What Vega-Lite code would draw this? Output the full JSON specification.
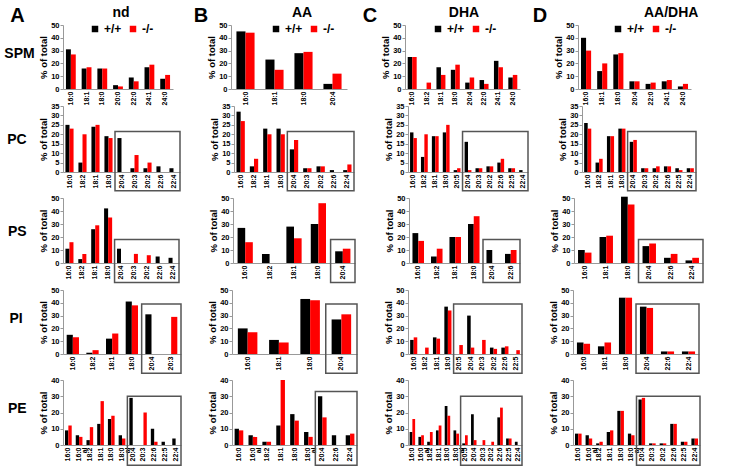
{
"$schema": "https://vega.github.io/schema/vega-lite/v6.json",
"padding": {"left": 4, "top": 6, "right": 0, "bottom": 0},
"autosize": {"type": "pad"},
"title": {"text": "A", "anchor": "start", "frame": "bounds", "fontSize": 20, "fontWeight": "bold", "baseline": "alphabetic", "offset": 0, "dx": 6, "dy": 36, "color": "#000000"},
"config": {
  "font": "Liberation Sans",
  "view": {"stroke": null},
  "axis": {"labelFontWeight": "bold", "labelColor": "#000000", "domainColor": "#999999", "tickColor": "#999999", "grid": false, "titleFontWeight": "bold", "titleColor": "#000000"},
  "axisX": {"labelAngle": -90, "labelFontSize": 7, "ticks": false, "labelPadding": 2, "labelOverlap": false, "labelExpr": "split(datum.label, ' ')", "labelLineHeight": 6},
  "axisY": {"labelFontSize": 7.5, "tickSize": 3, "labelPadding": 1, "titleFontSize": 9.5, "titlePadding": 2, "labelOverlap": false, "labelBound": false},
  "legend": {"titleFontSize": 14, "titleFontWeight": "bold", "titleAnchor": "middle", "titlePadding": 3, "labelFontSize": 12, "labelFontWeight": "bold", "symbolType": "square", "symbolSize": 42, "symbolStrokeWidth": 0, "columnPadding": 5, "labelOffset": 3, "padding": 0, "titleColor": "#000000", "labelColor": "#000000"}
},
"datasets": {
"spm_nd": [{"fa":"16:0","g":"+/+","v":31},{"fa":"16:0","g":"-/-","v":27},{"fa":"18:1","g":"+/+","v":16},{"fa":"18:1","g":"-/-","v":17},{"fa":"18:0","g":"+/+","v":16},{"fa":"18:0","g":"-/-","v":16},{"fa":"20:0","g":"+/+","v":3},{"fa":"20:0","g":"-/-","v":2},{"fa":"22:0","g":"+/+","v":9},{"fa":"22:0","g":"-/-","v":6},{"fa":"24:1","g":"+/+","v":17},{"fa":"24:1","g":"-/-","v":19},{"fa":"24:0","g":"+/+","v":8},{"fa":"24:0","g":"-/-","v":11}],
"spm_aa": [{"fa":"16:0","g":"+/+","v":45},{"fa":"16:0","g":"-/-","v":44},{"fa":"18:1","g":"+/+","v":23},{"fa":"18:1","g":"-/-","v":15},{"fa":"18:0","g":"+/+","v":28},{"fa":"18:0","g":"-/-","v":29},{"fa":"20:4","g":"+/+","v":4},{"fa":"20:4","g":"-/-","v":12}],
"spm_dha": [{"fa":"16:0","g":"+/+","v":25},{"fa":"16:0","g":"-/-","v":25},{"fa":"18:2","g":"-/-","v":5},{"fa":"18:1","g":"+/+","v":17},{"fa":"18:1","g":"-/-","v":11},{"fa":"18:0","g":"+/+","v":15},{"fa":"18:0","g":"-/-","v":19},{"fa":"20:4","g":"+/+","v":5},{"fa":"20:4","g":"-/-","v":9},{"fa":"22:0","g":"+/+","v":7},{"fa":"22:0","g":"-/-","v":4},{"fa":"24:1","g":"+/+","v":22},{"fa":"24:1","g":"-/-","v":17},{"fa":"24:0","g":"+/+","v":9},{"fa":"24:0","g":"-/-","v":11}],
"spm_aadha": [{"fa":"16:0","g":"+/+","v":40},{"fa":"16:0","g":"-/-","v":30},{"fa":"18:1","g":"+/+","v":14},{"fa":"18:1","g":"-/-","v":20},{"fa":"18:0","g":"+/+","v":27},{"fa":"18:0","g":"-/-","v":28},{"fa":"20:4","g":"+/+","v":6},{"fa":"20:4","g":"-/-","v":6},{"fa":"22:0","g":"+/+","v":4},{"fa":"22:0","g":"-/-","v":5},{"fa":"24:1","g":"+/+","v":6},{"fa":"24:1","g":"-/-","v":7},{"fa":"24:0","g":"+/+","v":2},{"fa":"24:0","g":"-/-","v":4}],
"pc_nd": [{"fa":"16:0","g":"+/+","v":25},{"fa":"16:0","g":"-/-","v":23},{"fa":"18:2","g":"+/+","v":5},{"fa":"18:2","g":"-/-","v":20},{"fa":"18:1","g":"+/+","v":24},{"fa":"18:1","g":"-/-","v":25},{"fa":"18:0","g":"+/+","v":19},{"fa":"18:0","g":"-/-","v":18},{"fa":"20:4","g":"+/+","v":18},{"fa":"20:3","g":"+/+","v":2},{"fa":"20:3","g":"-/-","v":9},{"fa":"20:2","g":"+/+","v":2},{"fa":"20:2","g":"-/-","v":5},{"fa":"22:6","g":"+/+","v":3},{"fa":"22:4","g":"+/+","v":2}],
"pc_aa": [{"fa":"16:0","g":"+/+","v":32},{"fa":"16:0","g":"-/-","v":27},{"fa":"18:2","g":"+/+","v":3},{"fa":"18:2","g":"-/-","v":7},{"fa":"18:1","g":"+/+","v":23},{"fa":"18:1","g":"-/-","v":20},{"fa":"18:0","g":"+/+","v":23},{"fa":"18:0","g":"-/-","v":20},{"fa":"20:4","g":"+/+","v":12},{"fa":"20:4","g":"-/-","v":17},{"fa":"20:3","g":"+/+","v":2},{"fa":"20:3","g":"-/-","v":2},{"fa":"20:2","g":"+/+","v":3},{"fa":"20:2","g":"-/-","v":3},{"fa":"22:6","g":"+/+","v":1},{"fa":"22:4","g":"+/+","v":1},{"fa":"22:4","g":"-/-","v":4}],
"pc_dha": [{"fa":"16:0","g":"+/+","v":21},{"fa":"16:0","g":"-/-","v":18},{"fa":"18:2","g":"+/+","v":8},{"fa":"18:2","g":"-/-","v":20},{"fa":"18:1","g":"+/+","v":19},{"fa":"18:1","g":"-/-","v":19},{"fa":"18:0","g":"+/+","v":21},{"fa":"18:0","g":"-/-","v":25},{"fa":"20:5","g":"+/+","v":1},{"fa":"20:5","g":"-/-","v":2},{"fa":"20:4","g":"+/+","v":16},{"fa":"20:4","g":"-/-","v":1},{"fa":"20:3","g":"+/+","v":2},{"fa":"20:3","g":"-/-","v":2},{"fa":"20:2","g":"+/+","v":3},{"fa":"20:2","g":"-/-","v":3},{"fa":"22:6","g":"+/+","v":5},{"fa":"22:6","g":"-/-","v":7},{"fa":"22:5","g":"+/+","v":2},{"fa":"22:5","g":"-/-","v":2},{"fa":"22:4","g":"+/+","v":1}],
"pc_aadha": [{"fa":"16:0","g":"+/+","v":26},{"fa":"16:0","g":"-/-","v":23},{"fa":"18:2","g":"+/+","v":5},{"fa":"18:2","g":"-/-","v":7},{"fa":"18:1","g":"+/+","v":19},{"fa":"18:1","g":"-/-","v":19},{"fa":"18:0","g":"+/+","v":23},{"fa":"18:0","g":"-/-","v":23},{"fa":"20:4","g":"+/+","v":16},{"fa":"20:4","g":"-/-","v":17},{"fa":"20:3","g":"+/+","v":2},{"fa":"20:3","g":"-/-","v":2},{"fa":"20:2","g":"+/+","v":2},{"fa":"20:2","g":"-/-","v":3},{"fa":"22:6","g":"+/+","v":3},{"fa":"22:6","g":"-/-","v":3},{"fa":"22:5","g":"+/+","v":2},{"fa":"22:5","g":"-/-","v":1},{"fa":"22:4","g":"+/+","v":2},{"fa":"22:4","g":"-/-","v":2}],
"ps_nd": [{"fa":"16:0","g":"+/+","v":11},{"fa":"16:0","g":"-/-","v":16},{"fa":"18:2","g":"+/+","v":3},{"fa":"18:2","g":"-/-","v":7},{"fa":"18:1","g":"+/+","v":26},{"fa":"18:1","g":"-/-","v":29},{"fa":"18:0","g":"+/+","v":42},{"fa":"18:0","g":"-/-","v":35},{"fa":"20:4","g":"+/+","v":11},{"fa":"20:3","g":"-/-","v":7},{"fa":"20:2","g":"-/-","v":6},{"fa":"22:6","g":"+/+","v":5},{"fa":"22:4","g":"+/+","v":4}],
"ps_aa": [{"fa":"16:0","g":"+/+","v":27},{"fa":"16:0","g":"-/-","v":16},{"fa":"18:2","g":"+/+","v":7},{"fa":"18:1","g":"+/+","v":28},{"fa":"18:1","g":"-/-","v":19},{"fa":"18:0","g":"+/+","v":30},{"fa":"18:0","g":"-/-","v":46},{"fa":"20:4","g":"+/+","v":9},{"fa":"20:4","g":"-/-","v":11}],
"ps_dha": [{"fa":"16:0","g":"+/+","v":23},{"fa":"16:0","g":"-/-","v":17},{"fa":"18:2","g":"+/+","v":5},{"fa":"18:2","g":"-/-","v":11},{"fa":"18:1","g":"+/+","v":20},{"fa":"18:1","g":"-/-","v":20},{"fa":"18:0","g":"+/+","v":30},{"fa":"18:0","g":"-/-","v":36},{"fa":"20:4","g":"+/+","v":10},{"fa":"22:6","g":"+/+","v":7},{"fa":"22:6","g":"-/-","v":10}],
"ps_aadha": [{"fa":"16:0","g":"+/+","v":10},{"fa":"16:0","g":"-/-","v":8},{"fa":"18:1","g":"+/+","v":20},{"fa":"18:1","g":"-/-","v":21},{"fa":"18:0","g":"+/+","v":51},{"fa":"18:0","g":"-/-","v":45},{"fa":"20:4","g":"+/+","v":13},{"fa":"20:4","g":"-/-","v":15},{"fa":"22:6","g":"+/+","v":4},{"fa":"22:6","g":"-/-","v":7},{"fa":"22:4","g":"+/+","v":2},{"fa":"22:4","g":"-/-","v":4}],
"pi_nd": [{"fa":"16:0","g":"+/+","v":15},{"fa":"16:0","g":"-/-","v":13},{"fa":"18:2","g":"+/+","v":1},{"fa":"18:2","g":"-/-","v":3},{"fa":"18:1","g":"+/+","v":12},{"fa":"18:1","g":"-/-","v":16},{"fa":"18:0","g":"+/+","v":41},{"fa":"18:0","g":"-/-","v":38},{"fa":"20:4","g":"+/+","v":31},{"fa":"20:3","g":"-/-","v":29}],
"pi_aa": [{"fa":"16:0","g":"+/+","v":20},{"fa":"16:0","g":"-/-","v":17},{"fa":"18:1","g":"+/+","v":11},{"fa":"18:1","g":"-/-","v":9},{"fa":"18:0","g":"+/+","v":43},{"fa":"18:0","g":"-/-","v":42},{"fa":"20:4","g":"+/+","v":27},{"fa":"20:4","g":"-/-","v":31}],
"pi_dha": [{"fa":"16:0","g":"+/+","v":11},{"fa":"16:0","g":"-/-","v":13},{"fa":"18:2","g":"-/-","v":5},{"fa":"18:1","g":"+/+","v":13},{"fa":"18:1","g":"-/-","v":12},{"fa":"18:0","g":"+/+","v":37},{"fa":"18:0","g":"-/-","v":34},{"fa":"20:5","g":"-/-","v":7},{"fa":"20:4","g":"+/+","v":30},{"fa":"20:4","g":"-/-","v":5},{"fa":"20:3","g":"-/-","v":11},{"fa":"20:2","g":"+/+","v":5},{"fa":"20:2","g":"-/-","v":4},{"fa":"22:6","g":"+/+","v":5},{"fa":"22:6","g":"-/-","v":6},{"fa":"22:5","g":"-/-","v":3}],
"pi_aadha": [{"fa":"16:0","g":"+/+","v":9},{"fa":"16:0","g":"-/-","v":8},{"fa":"18:1","g":"+/+","v":6},{"fa":"18:1","g":"-/-","v":9},{"fa":"18:0","g":"+/+","v":44},{"fa":"18:0","g":"-/-","v":44},{"fa":"20:4","g":"+/+","v":37},{"fa":"20:4","g":"-/-","v":36},{"fa":"22:6","g":"+/+","v":2},{"fa":"22:6","g":"-/-","v":2},{"fa":"22:4","g":"+/+","v":2},{"fa":"22:4","g":"-/-","v":2}],
"pe_nd": [{"fa":"16:0","g":"+/+","v":9},{"fa":"16:0","g":"-/-","v":12},{"fa":"16:0 al","g":"+/+","v":6},{"fa":"16:0 al","g":"-/-","v":5},{"fa":"18:2","g":"+/+","v":3},{"fa":"18:2","g":"-/-","v":11},{"fa":"18:1","g":"+/+","v":13},{"fa":"18:1","g":"-/-","v":27},{"fa":"18:0","g":"+/+","v":16},{"fa":"18:0","g":"-/-","v":18},{"fa":"18:0 al","g":"+/+","v":6},{"fa":"18:0 al","g":"-/-","v":4},{"fa":"20:4","g":"+/+","v":29},{"fa":"20:3","g":"-/-","v":20},{"fa":"22:6","g":"+/+","v":10},{"fa":"22:6","g":"-/-","v":2},{"fa":"22:5","g":"+/+","v":2},{"fa":"22:4","g":"+/+","v":4}],
"pe_aa": [{"fa":"16:0","g":"+/+","v":10},{"fa":"16:0","g":"-/-","v":9},{"fa":"16:0 al","g":"+/+","v":6},{"fa":"16:0 al","g":"-/-","v":5},{"fa":"18:2","g":"+/+","v":2},{"fa":"18:2","g":"-/-","v":2},{"fa":"18:1","g":"+/+","v":12},{"fa":"18:1","g":"-/-","v":40},{"fa":"18:0","g":"+/+","v":19},{"fa":"18:0","g":"-/-","v":15},{"fa":"18:0 al","g":"+/+","v":8},{"fa":"18:0 al","g":"-/-","v":5},{"fa":"20:4","g":"+/+","v":30},{"fa":"20:4","g":"-/-","v":17},{"fa":"22:6","g":"+/+","v":6},{"fa":"22:4","g":"+/+","v":6},{"fa":"22:4","g":"-/-","v":7}],
"pe_dha": [{"fa":"16:0","g":"+/+","v":8},{"fa":"16:0","g":"-/-","v":16},{"fa":"16:0 al","g":"+/+","v":5},{"fa":"16:0 al","g":"-/-","v":6},{"fa":"18:2","g":"+/+","v":2},{"fa":"18:2","g":"-/-","v":8},{"fa":"18:1","g":"+/+","v":9},{"fa":"18:1","g":"-/-","v":12},{"fa":"18:0","g":"+/+","v":24},{"fa":"18:0","g":"-/-","v":18},{"fa":"18:0 al","g":"+/+","v":9},{"fa":"18:0 al","g":"-/-","v":7},{"fa":"20:5","g":"+/+","v":1},{"fa":"20:5","g":"-/-","v":6},{"fa":"20:4","g":"+/+","v":19},{"fa":"20:4","g":"-/-","v":3},{"fa":"20:3","g":"-/-","v":3},{"fa":"20:2","g":"-/-","v":2},{"fa":"22:6","g":"+/+","v":17},{"fa":"22:6","g":"-/-","v":23},{"fa":"22:5","g":"+/+","v":4},{"fa":"22:5","g":"-/-","v":4},{"fa":"22:4","g":"+/+","v":2}],
"pe_aadha": [{"fa":"16:0","g":"+/+","v":7},{"fa":"16:0","g":"-/-","v":7},{"fa":"16:0 al","g":"+/+","v":6},{"fa":"16:0 al","g":"-/-","v":4},{"fa":"18:2","g":"+/+","v":1},{"fa":"18:2","g":"-/-","v":2},{"fa":"18:1","g":"+/+","v":8},{"fa":"18:1","g":"-/-","v":9},{"fa":"18:0","g":"+/+","v":21},{"fa":"18:0","g":"-/-","v":21},{"fa":"18:0 al","g":"+/+","v":7},{"fa":"18:0 al","g":"-/-","v":6},{"fa":"20:4","g":"+/+","v":28},{"fa":"20:4","g":"-/-","v":29},{"fa":"20:3","g":"+/+","v":1},{"fa":"20:3","g":"-/-","v":1},{"fa":"20:2","g":"+/+","v":1},{"fa":"20:2","g":"-/-","v":1},{"fa":"22:6","g":"+/+","v":13},{"fa":"22:6","g":"-/-","v":13},{"fa":"22:5","g":"+/+","v":2},{"fa":"22:5","g":"-/-","v":2},{"fa":"22:4","g":"+/+","v":4},{"fa":"22:4","g":"-/-","v":4}]
},
"spacing": 2,
"resolve": {"scale": {"color": "independent", "xOffset": "independent"}, "legend": {"color": "independent"}},
"vconcat": [
{
 "spacing": -5,
 "resolve": {"scale": {"color": "independent", "xOffset": "independent"}, "legend": {"color": "independent"}},
 "vconcat": [
{
 "title": {"text": "SPM", "orient": "left", "angle": 0, "align": "left", "anchor": "middle", "baseline": "middle", "offset": 0, "dx": -4, "dy": -2, "fontSize": 14, "fontWeight": "bold", "color": "#000000"},
 "spacing": 58,
 "bounds": "flush",
 "resolve": {"scale": {"color": "independent", "xOffset": "independent"}, "legend": {"color": "independent"}},
 "hconcat": [
  {"width": 110, "height": 64, "data": {"name": "spm_nd"},
   "mark": "bar",
   "encoding": {
    "x": {"field": "fa", "type": "nominal", "title": null, "scale": {"domain": ["16:0","18:1","18:0","20:0","22:0","24:1","24:0"], "paddingInner": 0, "paddingOuter": 0}},
    "xOffset": {"field": "g", "type": "nominal", "scale": {"domain": ["+/+","-/-"], "paddingOuter": 0.6, "paddingInner": 0}},
    "y": {"field": "v", "type": "quantitative", "title": "% of total", "scale": {"domain": [0,50], "nice": false}, "axis": {"values": [0,10,20,30,40,50], "labelOverlap": false}},
    "color": {"field": "g", "type": "nominal", "scale": {"domain": ["+/+","-/-"], "range": ["#000000","#ff0000"]}, "legend": {"orient": "none", "legendX": 26, "legendY": -19, "direction": "horizontal", "title": "nd"}}
   }},
  {"width": 116, "height": 64, "data": {"name": "spm_aa"},
   "title": {"text": "B", "anchor": "start", "frame": "bounds", "fontSize": 20, "fontWeight": "bold", "baseline": "alphabetic", "offset": 0, "dx": -13, "dy": 36, "color": "#000000"},
   "mark": "bar",
   "encoding": {
    "x": {"field": "fa", "type": "nominal", "title": null, "scale": {"domain": ["16:0","18:1","18:0","20:4"], "paddingInner": 0, "paddingOuter": 0}},
    "xOffset": {"field": "g", "type": "nominal", "scale": {"domain": ["+/+","-/-"], "paddingOuter": 0.6, "paddingInner": 0}},
    "y": {"field": "v", "type": "quantitative", "title": "% of total", "scale": {"domain": [0,50], "nice": false}, "axis": {"values": [0,10,20,30,40,50], "labelOverlap": false}},
    "color": {"field": "g", "type": "nominal", "scale": {"domain": ["+/+","-/-"], "range": ["#000000","#ff0000"]}, "legend": {"orient": "none", "legendX": 39, "legendY": -19, "direction": "horizontal", "title": "AA"}}
   }},
  {"width": 115, "height": 64, "data": {"name": "spm_dha"},
   "title": {"text": "C", "anchor": "start", "frame": "bounds", "fontSize": 20, "fontWeight": "bold", "baseline": "alphabetic", "offset": 0, "dx": -18, "dy": 36, "color": "#000000"},
   "mark": "bar",
   "encoding": {
    "x": {"field": "fa", "type": "nominal", "title": null, "scale": {"domain": ["16:0","18:2","18:1","18:0","20:4","22:0","24:1","24:0"], "paddingInner": 0, "paddingOuter": 0}},
    "xOffset": {"field": "g", "type": "nominal", "scale": {"domain": ["+/+","-/-"], "paddingOuter": 0.6, "paddingInner": 0}},
    "y": {"field": "v", "type": "quantitative", "title": "% of total", "scale": {"domain": [0,50], "nice": false}, "axis": {"values": [0,10,20,30,40,50], "labelOverlap": false}},
    "color": {"field": "g", "type": "nominal", "scale": {"domain": ["+/+","-/-"], "range": ["#000000","#ff0000"]}, "legend": {"orient": "none", "legendX": 27, "legendY": -19, "direction": "horizontal", "title": "DHA"}}
   }},
  {"width": 113, "height": 64, "data": {"name": "spm_aadha"},
   "title": {"text": "D", "anchor": "start", "frame": "bounds", "fontSize": 20, "fontWeight": "bold", "baseline": "alphabetic", "offset": 0, "dx": -21, "dy": 36, "color": "#000000"},
   "mark": "bar",
   "encoding": {
    "x": {"field": "fa", "type": "nominal", "title": null, "scale": {"domain": ["16:0","18:1","18:0","20:4","22:0","24:1","24:0"], "paddingInner": 0, "paddingOuter": 0}},
    "xOffset": {"field": "g", "type": "nominal", "scale": {"domain": ["+/+","-/-"], "paddingOuter": 0.6, "paddingInner": 0}},
    "y": {"field": "v", "type": "quantitative", "title": "% of total", "scale": {"domain": [0,50], "nice": false}, "axis": {"values": [0,10,20,30,40,50], "labelOverlap": false}},
    "color": {"field": "g", "type": "nominal", "scale": {"domain": ["+/+","-/-"], "range": ["#000000","#ff0000"]}, "legend": {"orient": "none", "legendX": 34, "legendY": -19, "direction": "horizontal", "title": "AA/DHA", "titleAlign": "left"}}
   }}
 ]
},
{
 "title": {"text": "PC", "orient": "left", "angle": 0, "align": "left", "anchor": "middle", "baseline": "middle", "offset": 0, "dx": -12, "dy": -7, "fontSize": 14, "fontWeight": "bold", "color": "#000000"},
 "spacing": 28,
 "resolve": {"scale": {"color": "independent", "xOffset": "independent"}, "legend": {"color": "independent"}},
 "hconcat": [
  {"width": 117, "height": 66, "data": {"name": "pc_nd"},
   "layer": [
    {"mark": "bar",
     "encoding": {
      "x": {"field": "fa", "type": "nominal", "title": null, "scale": {"domain": ["16:0","18:2","18:1","18:0","20:4","20:3","20:2","22:6","22:4"], "paddingInner": 0, "paddingOuter": 0}},
      "xOffset": {"field": "g", "type": "nominal", "scale": {"domain": ["+/+","-/-"], "paddingOuter": 0.6, "paddingInner": 0}},
      "y": {"field": "v", "type": "quantitative", "title": "% of total", "scale": {"domain": [0,35], "nice": false}, "axis": {"values": [0,5,10,15,20,25,30,35], "labelOverlap": false}},
      "color": {"field": "g", "type": "nominal", "scale": {"domain": ["+/+","-/-"], "range": ["#000000","#ff0000"]}, "legend": null}
     }},
    {"data": {"values": [{}]},
     "mark": {"type": "rect", "fill": "transparent", "stroke": "#555555", "strokeWidth": 1.5},
     "encoding": {"x": {"datum": "20:4", "type": "nominal", "bandPosition": 0}, "x2": {"value": "width"}, "y": {"datum": 21.5, "type": "quantitative", "title": "% of total", "axis": {"values": [0,5,10,15,20,25,30,35], "labelOverlap": false}}, "y2": {"datum": -10}}}
   ]},
  {"width": 120, "height": 66, "data": {"name": "pc_aa"},
   "layer": [
    {"mark": "bar",
     "encoding": {
      "x": {"field": "fa", "type": "nominal", "title": null, "scale": {"domain": ["16:0","18:2","18:1","18:0","20:4","20:3","20:2","22:6","22:4"], "paddingInner": 0, "paddingOuter": 0}},
      "xOffset": {"field": "g", "type": "nominal", "scale": {"domain": ["+/+","-/-"], "paddingOuter": 0.6, "paddingInner": 0}},
      "y": {"field": "v", "type": "quantitative", "title": "% of total", "scale": {"domain": [0,35], "nice": false}, "axis": {"values": [0,5,10,15,20,25,30,35], "labelOverlap": false}},
      "color": {"field": "g", "type": "nominal", "scale": {"domain": ["+/+","-/-"], "range": ["#000000","#ff0000"]}, "legend": null}
     }},
    {"data": {"values": [{}]},
     "mark": {"type": "rect", "fill": "transparent", "stroke": "#555555", "strokeWidth": 1.5},
     "encoding": {"x": {"datum": "20:4", "type": "nominal", "bandPosition": 0}, "x2": {"value": "width"}, "y": {"datum": 21.5, "type": "quantitative", "title": "% of total", "axis": {"values": [0,5,10,15,20,25,30,35], "labelOverlap": false}}, "y2": {"datum": -10}}}
   ]},
  {"width": 120, "height": 66, "data": {"name": "pc_dha"},
   "layer": [
    {"mark": "bar",
     "encoding": {
      "x": {"field": "fa", "type": "nominal", "title": null, "scale": {"domain": ["16:0","18:2","18:1","18:0","20:5","20:4","20:3","20:2","22:6","22:5","22:4"], "paddingInner": 0, "paddingOuter": 0}},
      "xOffset": {"field": "g", "type": "nominal", "scale": {"domain": ["+/+","-/-"], "paddingOuter": 0.6, "paddingInner": 0}},
      "y": {"field": "v", "type": "quantitative", "title": "% of total", "scale": {"domain": [0,35], "nice": false}, "axis": {"values": [0,5,10,15,20,25,30,35], "labelOverlap": false}},
      "color": {"field": "g", "type": "nominal", "scale": {"domain": ["+/+","-/-"], "range": ["#000000","#ff0000"]}, "legend": null}
     }},
    {"data": {"values": [{}]},
     "mark": {"type": "rect", "fill": "transparent", "stroke": "#555555", "strokeWidth": 1.5},
     "encoding": {"x": {"datum": "20:4", "type": "nominal", "bandPosition": 0}, "x2": {"value": "width"}, "y": {"datum": 21.5, "type": "quantitative", "title": "% of total", "axis": {"values": [0,5,10,15,20,25,30,35], "labelOverlap": false}}, "y2": {"datum": -10}}}
   ]},
  {"width": 114, "height": 66, "data": {"name": "pc_aadha"},
   "layer": [
    {"mark": "bar",
     "encoding": {
      "x": {"field": "fa", "type": "nominal", "title": null, "scale": {"domain": ["16:0","18:2","18:1","18:0","20:4","20:3","20:2","22:6","22:5","22:4"], "paddingInner": 0, "paddingOuter": 0}},
      "xOffset": {"field": "g", "type": "nominal", "scale": {"domain": ["+/+","-/-"], "paddingOuter": 0.6, "paddingInner": 0}},
      "y": {"field": "v", "type": "quantitative", "title": "% of total", "scale": {"domain": [0,35], "nice": false}, "axis": {"values": [0,5,10,15,20,25,30,35], "labelOverlap": false}},
      "color": {"field": "g", "type": "nominal", "scale": {"domain": ["+/+","-/-"], "range": ["#000000","#ff0000"]}, "legend": null}
     }},
    {"data": {"values": [{}]},
     "mark": {"type": "rect", "fill": "transparent", "stroke": "#555555", "strokeWidth": 1.5},
     "encoding": {"x": {"datum": "20:4", "type": "nominal", "bandPosition": 0}, "x2": {"value": "width"}, "y": {"datum": 21.5, "type": "quantitative", "title": "% of total", "axis": {"values": [0,5,10,15,20,25,30,35], "labelOverlap": false}}, "y2": {"datum": -10}}}
   ]}
 ]
}
 ]
},
{
 "title": {"text": "PS", "orient": "left", "angle": 0, "align": "left", "anchor": "middle", "baseline": "middle", "offset": 0, "dx": -12, "dy": -7, "fontSize": 14, "fontWeight": "bold", "color": "#000000"},
 "spacing": 28,
 "resolve": {"scale": {"color": "independent", "xOffset": "independent"}, "legend": {"color": "independent"}},
 "hconcat": [
  {"width": 116, "height": 65, "data": {"name": "ps_nd"},
   "layer": [
    {"mark": "bar",
     "encoding": {
      "x": {"field": "fa", "type": "nominal", "title": null, "scale": {"domain": ["16:0","18:2","18:1","18:0","20:4","20:3","20:2","22:6","22:4"], "paddingInner": 0, "paddingOuter": 0}},
      "xOffset": {"field": "g", "type": "nominal", "scale": {"domain": ["+/+","-/-"], "paddingOuter": 0.6, "paddingInner": 0}},
      "y": {"field": "v", "type": "quantitative", "title": "% of total", "scale": {"domain": [0,50], "nice": false}, "axis": {"values": [0,10,20,30,40,50], "labelOverlap": false}},
      "color": {"field": "g", "type": "nominal", "scale": {"domain": ["+/+","-/-"], "range": ["#000000","#ff0000"]}, "legend": null}
     }},
    {"data": {"values": [{}]},
     "mark": {"type": "rect", "fill": "transparent", "stroke": "#555555", "strokeWidth": 1.5},
     "encoding": {"x": {"datum": "20:4", "type": "nominal", "bandPosition": 0}, "x2": {"value": "width"}, "y": {"datum": 18, "type": "quantitative", "title": "% of total", "axis": {"values": [0,10,20,30,40,50], "labelOverlap": false}}, "y2": {"datum": -15}}}
   ]},
  {"width": 122, "height": 65, "data": {"name": "ps_aa"},
   "layer": [
    {"mark": "bar",
     "encoding": {
      "x": {"field": "fa", "type": "nominal", "title": null, "scale": {"domain": ["16:0","18:2","18:1","18:0","20:4"], "paddingInner": 0, "paddingOuter": 0}},
      "xOffset": {"field": "g", "type": "nominal", "scale": {"domain": ["+/+","-/-"], "paddingOuter": 0.6, "paddingInner": 0}},
      "y": {"field": "v", "type": "quantitative", "title": "% of total", "scale": {"domain": [0,50], "nice": false}, "axis": {"values": [0,10,20,30,40,50], "labelOverlap": false}},
      "color": {"field": "g", "type": "nominal", "scale": {"domain": ["+/+","-/-"], "range": ["#000000","#ff0000"]}, "legend": null}
     }},
    {"data": {"values": [{}]},
     "mark": {"type": "rect", "fill": "transparent", "stroke": "#555555", "strokeWidth": 1.5},
     "encoding": {"x": {"datum": "20:4", "type": "nominal", "bandPosition": 0}, "x2": {"value": "width"}, "y": {"datum": 18, "type": "quantitative", "title": "% of total", "axis": {"values": [0,10,20,30,40,50], "labelOverlap": false}}, "y2": {"datum": -15}}}
   ]},
  {"width": 111, "height": 65, "data": {"name": "ps_dha"},
   "layer": [
    {"mark": "bar",
     "encoding": {
      "x": {"field": "fa", "type": "nominal", "title": null, "scale": {"domain": ["16:0","18:2","18:1","18:0","20:4","22:6"], "paddingInner": 0, "paddingOuter": 0}},
      "xOffset": {"field": "g", "type": "nominal", "scale": {"domain": ["+/+","-/-"], "paddingOuter": 0.6, "paddingInner": 0}},
      "y": {"field": "v", "type": "quantitative", "title": "% of total", "scale": {"domain": [0,50], "nice": false}, "axis": {"values": [0,10,20,30,40,50], "labelOverlap": false}},
      "color": {"field": "g", "type": "nominal", "scale": {"domain": ["+/+","-/-"], "range": ["#000000","#ff0000"]}, "legend": null}
     }},
    {"data": {"values": [{}]},
     "mark": {"type": "rect", "fill": "transparent", "stroke": "#555555", "strokeWidth": 1.5},
     "encoding": {"x": {"datum": "20:4", "type": "nominal", "bandPosition": 0}, "x2": {"value": "width"}, "y": {"datum": 18, "type": "quantitative", "title": "% of total", "axis": {"values": [0,10,20,30,40,50], "labelOverlap": false}}, "y2": {"datum": -15}}}
   ]},
  {"width": 129, "height": 65, "data": {"name": "ps_aadha"},
   "layer": [
    {"mark": "bar",
     "encoding": {
      "x": {"field": "fa", "type": "nominal", "title": null, "scale": {"domain": ["16:0","18:1","18:0","20:4","22:6","22:4"], "paddingInner": 0, "paddingOuter": 0}},
      "xOffset": {"field": "g", "type": "nominal", "scale": {"domain": ["+/+","-/-"], "paddingOuter": 0.6, "paddingInner": 0}},
      "y": {"field": "v", "type": "quantitative", "title": "% of total", "scale": {"domain": [0,50], "nice": false}, "axis": {"values": [0,10,20,30,40,50], "labelOverlap": false}},
      "color": {"field": "g", "type": "nominal", "scale": {"domain": ["+/+","-/-"], "range": ["#000000","#ff0000"]}, "legend": null}
     }},
    {"data": {"values": [{}]},
     "mark": {"type": "rect", "fill": "transparent", "stroke": "#555555", "strokeWidth": 1.5},
     "encoding": {"x": {"datum": "20:4", "type": "nominal", "bandPosition": 0}, "x2": {"value": "width"}, "y": {"datum": 18, "type": "quantitative", "title": "% of total", "axis": {"values": [0,10,20,30,40,50], "labelOverlap": false}}, "y2": {"datum": -15}}}
   ]}
 ]
},
{
 "title": {"text": "PI", "orient": "left", "angle": 0, "align": "left", "anchor": "middle", "baseline": "middle", "offset": 0, "dx": -16, "dy": -11, "fontSize": 14, "fontWeight": "bold", "color": "#000000"},
 "spacing": 25,
 "resolve": {"scale": {"color": "independent", "xOffset": "independent"}, "legend": {"color": "independent"}},
 "hconcat": [
  {"width": 118, "height": 64, "data": {"name": "pi_nd"},
   "layer": [
    {"mark": "bar",
     "encoding": {
      "x": {"field": "fa", "type": "nominal", "title": null, "scale": {"domain": ["16:0","18:2","18:1","18:0","20:4","20:3"], "paddingInner": 0, "paddingOuter": 0}},
      "xOffset": {"field": "g", "type": "nominal", "scale": {"domain": ["+/+","-/-"], "paddingOuter": 0.6, "paddingInner": 0}},
      "y": {"field": "v", "type": "quantitative", "title": "% of total", "scale": {"domain": [0,50], "nice": false}, "axis": {"values": [0,10,20,30,40,50], "labelOverlap": false}},
      "color": {"field": "g", "type": "nominal", "scale": {"domain": ["+/+","-/-"], "range": ["#000000","#ff0000"]}, "legend": null}
     }},
    {"data": {"values": [{}]},
     "mark": {"type": "rect", "fill": "transparent", "stroke": "#555555", "strokeWidth": 1.5},
     "encoding": {"x": {"datum": "20:4", "type": "nominal", "bandPosition": 0}, "x2": {"value": "width"}, "y": {"datum": 39, "type": "quantitative", "title": "% of total", "axis": {"values": [0,10,20,30,40,50], "labelOverlap": false}}, "y2": {"datum": -15}}}
   ]},
  {"width": 125, "height": 64, "data": {"name": "pi_aa"},
   "layer": [
    {"mark": "bar",
     "encoding": {
      "x": {"field": "fa", "type": "nominal", "title": null, "scale": {"domain": ["16:0","18:1","18:0","20:4"], "paddingInner": 0, "paddingOuter": 0}},
      "xOffset": {"field": "g", "type": "nominal", "scale": {"domain": ["+/+","-/-"], "paddingOuter": 0.6, "paddingInner": 0}},
      "y": {"field": "v", "type": "quantitative", "title": "% of total", "scale": {"domain": [0,50], "nice": false}, "axis": {"values": [0,10,20,30,40,50], "labelOverlap": false}},
      "color": {"field": "g", "type": "nominal", "scale": {"domain": ["+/+","-/-"], "range": ["#000000","#ff0000"]}, "legend": null}
     }},
    {"data": {"values": [{}]},
     "mark": {"type": "rect", "fill": "transparent", "stroke": "#555555", "strokeWidth": 1.5},
     "encoding": {"x": {"datum": "20:4", "type": "nominal", "bandPosition": 0}, "x2": {"value": "width"}, "y": {"datum": 39, "type": "quantitative", "title": "% of total", "axis": {"values": [0,10,20,30,40,50], "labelOverlap": false}}, "y2": {"datum": -15}}}
   ]},
  {"width": 114, "height": 64, "data": {"name": "pi_dha"},
   "layer": [
    {"mark": "bar",
     "encoding": {
      "x": {"field": "fa", "type": "nominal", "title": null, "scale": {"domain": ["16:0","18:2","18:1","18:0","20:5","20:4","20:3","20:2","22:6","22:5"], "paddingInner": 0, "paddingOuter": 0}},
      "xOffset": {"field": "g", "type": "nominal", "scale": {"domain": ["+/+","-/-"], "paddingOuter": 0.6, "paddingInner": 0}},
      "y": {"field": "v", "type": "quantitative", "title": "% of total", "scale": {"domain": [0,50], "nice": false}, "axis": {"values": [0,10,20,30,40,50], "labelOverlap": false}},
      "color": {"field": "g", "type": "nominal", "scale": {"domain": ["+/+","-/-"], "range": ["#000000","#ff0000"]}, "legend": null}
     }},
    {"data": {"values": [{}]},
     "mark": {"type": "rect", "fill": "transparent", "stroke": "#555555", "strokeWidth": 1.5},
     "encoding": {"x": {"datum": "20:5", "type": "nominal", "bandPosition": 0}, "x2": {"value": "width"}, "y": {"datum": 39, "type": "quantitative", "title": "% of total", "axis": {"values": [0,10,20,30,40,50], "labelOverlap": false}}, "y2": {"datum": -15}}}
   ]},
  {"width": 126, "height": 64, "data": {"name": "pi_aadha"},
   "layer": [
    {"mark": "bar",
     "encoding": {
      "x": {"field": "fa", "type": "nominal", "title": null, "scale": {"domain": ["16:0","18:1","18:0","20:4","22:6","22:4"], "paddingInner": 0, "paddingOuter": 0}},
      "xOffset": {"field": "g", "type": "nominal", "scale": {"domain": ["+/+","-/-"], "paddingOuter": 0.6, "paddingInner": 0}},
      "y": {"field": "v", "type": "quantitative", "title": "% of total", "scale": {"domain": [0,50], "nice": false}, "axis": {"values": [0,10,20,30,40,50], "labelOverlap": false}},
      "color": {"field": "g", "type": "nominal", "scale": {"domain": ["+/+","-/-"], "range": ["#000000","#ff0000"]}, "legend": null}
     }},
    {"data": {"values": [{}]},
     "mark": {"type": "rect", "fill": "transparent", "stroke": "#555555", "strokeWidth": 1.5},
     "encoding": {"x": {"datum": "20:4", "type": "nominal", "bandPosition": 0}, "x2": {"value": "width"}, "y": {"datum": 39, "type": "quantitative", "title": "% of total", "axis": {"values": [0,10,20,30,40,50], "labelOverlap": false}}, "y2": {"datum": -15}}}
   ]}
 ]
},
{
 "title": {"text": "PE", "orient": "left", "angle": 0, "align": "left", "anchor": "middle", "baseline": "middle", "offset": 0, "dx": -12, "dy": -12, "fontSize": 14, "fontWeight": "bold", "color": "#000000"},
 "spacing": 25,
 "resolve": {"scale": {"color": "independent", "xOffset": "independent"}, "legend": {"color": "independent"}},
 "hconcat": [
  {"width": 118, "height": 65, "data": {"name": "pe_nd"},
   "layer": [
    {"mark": "bar",
     "encoding": {
      "x": {"field": "fa", "type": "nominal", "title": null, "scale": {"domain": ["16:0","16:0 al","18:2","18:1","18:0","18:0 al","20:4","20:3","22:6","22:5","22:4"], "paddingInner": 0, "paddingOuter": 0}},
      "xOffset": {"field": "g", "type": "nominal", "scale": {"domain": ["+/+","-/-"], "paddingOuter": 0.6, "paddingInner": 0}},
      "y": {"field": "v", "type": "quantitative", "title": "% of total", "scale": {"domain": [0,40], "nice": false}, "axis": {"values": [0,10,20,30,40], "labelOverlap": false}},
      "color": {"field": "g", "type": "nominal", "scale": {"domain": ["+/+","-/-"], "range": ["#000000","#ff0000"]}, "legend": null}
     }},
    {"data": {"values": [{}]},
     "mark": {"type": "rect", "fill": "transparent", "stroke": "#555555", "strokeWidth": 1.5},
     "encoding": {"x": {"datum": "20:4", "type": "nominal", "bandPosition": 0}, "x2": {"value": "width"}, "y": {"datum": 30, "type": "quantitative", "title": "% of total", "axis": {"values": [0,10,20,30,40], "labelOverlap": false}}, "y2": {"datum": -12.5}}}
   ]},
  {"width": 125, "height": 65, "data": {"name": "pe_aa"},
   "layer": [
    {"mark": "bar",
     "encoding": {
      "x": {"field": "fa", "type": "nominal", "title": null, "scale": {"domain": ["16:0","16:0 al","18:2","18:1","18:0","18:0 al","20:4","22:6","22:4"], "paddingInner": 0, "paddingOuter": 0}},
      "xOffset": {"field": "g", "type": "nominal", "scale": {"domain": ["+/+","-/-"], "paddingOuter": 0.6, "paddingInner": 0}},
      "y": {"field": "v", "type": "quantitative", "title": "% of total", "scale": {"domain": [0,40], "nice": false}, "axis": {"values": [0,10,20,30,40], "labelOverlap": false}},
      "color": {"field": "g", "type": "nominal", "scale": {"domain": ["+/+","-/-"], "range": ["#000000","#ff0000"]}, "legend": null}
     }},
    {"data": {"values": [{}]},
     "mark": {"type": "rect", "fill": "transparent", "stroke": "#555555", "strokeWidth": 1.5},
     "encoding": {"x": {"datum": "20:4", "type": "nominal", "bandPosition": 0}, "x2": {"value": "width"}, "y": {"datum": 33, "type": "quantitative", "title": "% of total", "axis": {"values": [0,10,20,30,40], "labelOverlap": false}}, "y2": {"datum": -12.5}}}
   ]},
  {"width": 114, "height": 65, "data": {"name": "pe_dha"},
   "layer": [
    {"mark": "bar",
     "encoding": {
      "x": {"field": "fa", "type": "nominal", "title": null, "scale": {"domain": ["16:0","16:0 al","18:2","18:1","18:0","18:0 al","20:5","20:4","20:3","20:2","22:6","22:5","22:4"], "paddingInner": 0, "paddingOuter": 0}},
      "xOffset": {"field": "g", "type": "nominal", "scale": {"domain": ["+/+","-/-"], "paddingOuter": 0.6, "paddingInner": 0}},
      "y": {"field": "v", "type": "quantitative", "title": "% of total", "scale": {"domain": [0,40], "nice": false}, "axis": {"values": [0,10,20,30,40], "labelOverlap": false}},
      "color": {"field": "g", "type": "nominal", "scale": {"domain": ["+/+","-/-"], "range": ["#000000","#ff0000"]}, "legend": null}
     }},
    {"data": {"values": [{}]},
     "mark": {"type": "rect", "fill": "transparent", "stroke": "#555555", "strokeWidth": 1.5},
     "encoding": {"x": {"datum": "20:5", "type": "nominal", "bandPosition": 0}, "x2": {"value": "width"}, "y": {"datum": 30, "type": "quantitative", "title": "% of total", "axis": {"values": [0,10,20,30,40], "labelOverlap": false}}, "y2": {"datum": -12.5}}}
   ]},
  {"width": 127, "height": 65, "data": {"name": "pe_aadha"},
   "layer": [
    {"mark": "bar",
     "encoding": {
      "x": {"field": "fa", "type": "nominal", "title": null, "scale": {"domain": ["16:0","16:0 al","18:2","18:1","18:0","18:0 al","20:4","20:3","20:2","22:6","22:5","22:4"], "paddingInner": 0, "paddingOuter": 0}},
      "xOffset": {"field": "g", "type": "nominal", "scale": {"domain": ["+/+","-/-"], "paddingOuter": 0.6, "paddingInner": 0}},
      "y": {"field": "v", "type": "quantitative", "title": "% of total", "scale": {"domain": [0,40], "nice": false}, "axis": {"values": [0,10,20,30,40], "labelOverlap": false}},
      "color": {"field": "g", "type": "nominal", "scale": {"domain": ["+/+","-/-"], "range": ["#000000","#ff0000"]}, "legend": null}
     }},
    {"data": {"values": [{}]},
     "mark": {"type": "rect", "fill": "transparent", "stroke": "#555555", "strokeWidth": 1.5},
     "encoding": {"x": {"datum": "20:4", "type": "nominal", "bandPosition": 0}, "x2": {"value": "width"}, "y": {"datum": 30, "type": "quantitative", "title": "% of total", "axis": {"values": [0,10,20,30,40], "labelOverlap": false}}, "y2": {"datum": -12.5}}}
   ]}
 ]
}
]
}
